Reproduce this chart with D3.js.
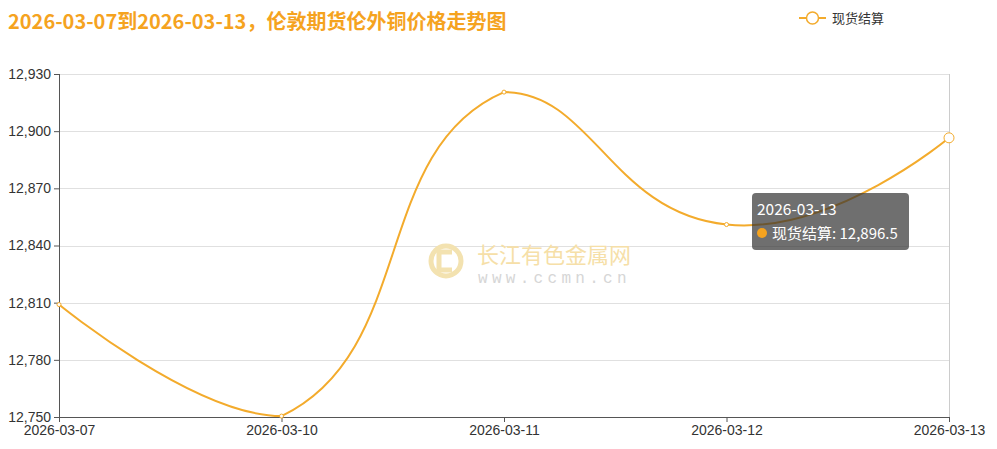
<!DOCTYPE html>
<html><head><meta charset="utf-8">
<script src="https://cdn.jsdelivr.net/npm/d3@7"></script>
<style>
html,body{margin:0;padding:0;background:#fff;}
svg{display:block;font-family:"Microsoft YaHei","Noto Sans CJK SC","Noto Sans",sans-serif;}
</style></head>
<body>
<svg id="chart" width="997" height="449"></svg>
<script>
const categories = ["2026-03-07","2026-03-10","2026-03-11","2026-03-12","2026-03-13"];
const spotValues = [12809, 12750.5, 12920.5, 12851, 12896.5];
const yTicks = [12750, 12780, 12810, 12840, 12870, 12900, 12930];
const seriesName = "现货结算";
const titleText = "2026-03-07到2026-03-13，伦敦期货伦外铜价格走势图";
const hoverIndex = 4;

const lineColor = "#f3ab2c";
const svg = d3.select("#chart");
const m = {left:59, right:48, top:74, bottom:32};
const W = 997, H = 449;

const x = d3.scalePoint().domain(categories).range([m.left, W - m.right]);
const y = d3.scaleLinear().domain([12750, 12930]).range([H - m.bottom, m.top]);

// title
svg.append("text").attr("x", 8).attr("y", 29)
  .attr("font-size", 20).attr("font-weight", "bold").attr("fill", "#f5a31f")
  .text(titleText);

// grid
svg.append("g").selectAll("line").data(yTicks.filter(d => d !== 12750)).join("line")
  .attr("x1", m.left).attr("x2", W - m.right)
  .attr("y1", d => Math.round(y(d)) + 0.5).attr("y2", d => Math.round(y(d)) + 0.5)
  .attr("stroke", "#e0e0e0").attr("stroke-width", 1);

// watermark
const wm = svg.append("g");
wm.append("circle").attr("cx", 446).attr("cy", 261).attr("r", 15)
  .attr("fill", "none").attr("stroke", "#f3e2b0").attr("stroke-width", 5);
wm.append("path").attr("d", "M452,252 H439 V270 H452")
  .attr("fill", "none").attr("stroke", "#f3e2b0").attr("stroke-width", 5);
wm.append("text").attr("x", 477).attr("y", 263).attr("font-size", 22)
  .attr("fill", "#f6dfa8").text("长江有色金属网");
wm.append("text").attr("x", 478).attr("y", 283).attr("font-size", 16)
  .attr("font-family", "'Liberation Mono','DejaVu Sans Mono',monospace")
  .attr("fill", "#d6d6d6").attr("letter-spacing", 4.3).text("www.ccmn.cn");

// axis pointer
svg.append("line").attr("x1", x(categories[hoverIndex]) + 0.5).attr("x2", x(categories[hoverIndex]) + 0.5)
  .attr("y1", m.top).attr("y2", H - m.bottom)
  .attr("stroke", "#cccccc").attr("stroke-width", 1);

// y axis
const yAxis = svg.append("g").attr("transform", `translate(${m.left},0)`)
  .call(d3.axisLeft(y).tickValues(yTicks).tickSize(5).tickPadding(3).tickFormat(d3.format(",")));
yAxis.select(".domain").attr("stroke", "#555").attr("d", `M0.5,${m.top}V${H - m.bottom}`);
yAxis.selectAll(".tick line").attr("stroke", "#555");
yAxis.selectAll(".tick text").attr("fill", "#333").attr("font-size", 14);

// x axis
const xAxis = svg.append("g").attr("transform", `translate(0,${H - m.bottom})`)
  .call(d3.axisBottom(x).tickSize(5).tickPadding(3));
xAxis.select(".domain").attr("stroke", "#555").attr("d", `M${m.left},0.5H${W - m.right}`);
xAxis.selectAll(".tick line").attr("stroke", "#555");
xAxis.selectAll(".tick text").attr("fill", "#333").attr("font-size", 14);

// ECharts v4-style smooth line (smooth = 0.5, control points clamped to points' bounding box)
const pts = categories.map((c, i) => [x(c), y(spotValues[i])]);
function smoothPath(p, s) {
  const minX = d3.min(p, d => d[0]), maxX = d3.max(p, d => d[0]);
  const minY = d3.min(p, d => d[1]), maxY = d3.max(p, d => d[1]);
  const cl = (c) => [Math.max(minX, Math.min(maxX, c[0])), Math.max(minY, Math.min(maxY, c[1]))];
  let d = `M${p[0][0]},${p[0][1]}`;
  let cp0 = [p[0][0], p[0][1]];
  let v = [0, 0];
  for (let k = 1; k < p.length; k++) {
    const pt = p[k], prev = p[k - 1], next = p[k + 1];
    let cp1, ratio = 0.5;
    if (!next) cp1 = [pt[0], pt[1]];
    else {
      v = [next[0] - prev[0], next[1] - prev[1]];
      const l0 = Math.hypot(pt[0] - prev[0], pt[1] - prev[1]);
      const l1 = Math.hypot(next[0] - pt[0], next[1] - pt[1]);
      ratio = l1 / (l0 + l1);
      cp1 = [pt[0] - v[0] * s * (1 - ratio), pt[1] - v[1] * s * (1 - ratio)];
    }
    cp0 = cl(cp0); cp1 = cl(cp1);
    d += `C${cp0[0]},${cp0[1]},${cp1[0]},${cp1[1]},${pt[0]},${pt[1]}`;
    cp0 = [pt[0] + v[0] * s * ratio, pt[1] + v[1] * s * ratio];
  }
  return d;
}
svg.append("path").attr("d", smoothPath(pts, 0.5))
  .attr("fill", "none").attr("stroke", lineColor).attr("stroke-width", 2);

svg.append("g").selectAll("circle").data(pts).join("circle")
  .attr("cx", d => d[0]).attr("cy", d => d[1])
  .attr("r", (d, i) => i === hoverIndex ? 5 : 2)
  .attr("fill", "#fff").attr("stroke", lineColor).attr("stroke-width", 1);

// legend
const lg = svg.append("g");
lg.append("line").attr("x1", 799).attr("x2", 826).attr("y1", 18).attr("y2", 18)
  .attr("stroke", lineColor).attr("stroke-width", 2);
lg.append("circle").attr("cx", 812.5).attr("cy", 18).attr("r", 6)
  .attr("fill", "#fff").attr("stroke", lineColor).attr("stroke-width", 1.5);
lg.append("text").attr("x", 832).attr("y", 23).attr("font-size", 13).attr("fill", "#333")
  .text(seriesName);

// tooltip
const tt = svg.append("g").attr("transform", "translate(752,193)");
tt.append("rect").attr("width", 157).attr("height", 57).attr("rx", 4)
  .attr("fill", "rgba(50,50,50,0.7)");
tt.append("text").attr("x", 5).attr("y", 22).attr("font-size", 15.5).attr("fill", "#fff")
  .text(categories[hoverIndex]);
tt.append("circle").attr("cx", 10).attr("cy", 40).attr("r", 5).attr("fill", "#f5a31f");
tt.append("text").attr("x", 20).attr("y", 45.5).attr("font-size", 15).attr("fill", "#fff")
  .text(seriesName + ": " + d3.format(",.1f")(spotValues[hoverIndex]));
</script>
</body></html>
